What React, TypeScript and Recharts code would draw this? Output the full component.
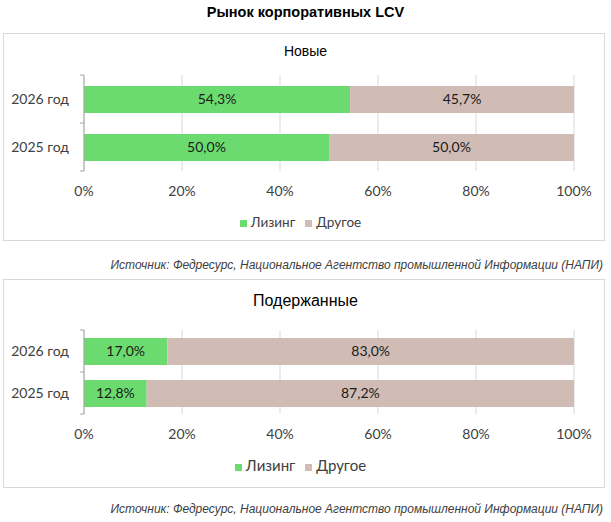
import React from 'react';
import { BarChart, Bar, XAxis, YAxis, CartesianGrid, LabelList, Legend } from 'recharts';

// Categories and series values (percent)
const years = ['2026 год', '2025 год'];
const newLeasing = [54.3, 50.0];
const newOther = [45.7, 50.0];
const usedLeasing = [17.0, 12.8];
const usedOther = [83.0, 87.2];
const percentTicks = [0, 20, 40, 60, 80, 100];
const seriesNames = ['Лизинг', 'Другое'];
const mainTitle = 'Рынок корпоративных LCV';
const sourceText = 'Источник: Федресурс, Национальное Агентство промышленной Информации (НАПИ)';

const GREEN = '#6cdb6f';
const BEIGE = '#d1bcb5';
const GRID = '#d9d9d9';
const AXIS = '#a6a6a6';
const TEXT = '#404040';
const CALIBRI = 'Lato, "Noto Sans", sans-serif';
const ARIAL = '"Liberation Sans", Arial, sans-serif';

const fmt = (v: number) => `${v.toFixed(1).replace('.', ',')}%`;

const buildRows = (leasing: number[], other: number[]) =>
  years.map((name, i) => ({ name, leasing: leasing[i], other: other[i] }));

// category tick: label plus Excel-style tick marks at band edges
const makeYTick = (half: number) => (props: any) => {
  const { x, y, payload, index } = props;
  return (
    <g>
      <text x={x - 15} y={y} dy="0.35em" textAnchor="end" fontSize={14} fill={TEXT} fontFamily={CALIBRI}>
        {payload.value}
      </text>
      <line x1={x - 4} x2={x} y1={y - half} y2={y - half} stroke={AXIS} />
      {index === years.length - 1 && <line x1={x - 4} x2={x} y1={y + half} y2={y + half} stroke={AXIS} />}
    </g>
  );
};

interface PanelProps {
  top: number;
  height: number;
  title: string;
  titleSize: number;
  titleY: number;
  leasing: number[];
  other: number[];
  marginTop: number;
  marginBottom: number;
  legendSize: number;
}

const Panel: React.FC<PanelProps> = ({ top, height, title, titleSize, titleY, leasing, other, marginTop, marginBottom, legendSize }) => {
  const data = buildRows(leasing, other);
  const xAxisHeight = 42;
  const legendHeight = 20;
  const plotHeight = height - marginTop - marginBottom - xAxisHeight - legendHeight;
  const half = plotHeight / years.length / 2;
  return (
    <>
      <div
        style={{
          position: 'absolute',
          left: 3,
          top,
          width: 602,
          height,
          boxSizing: 'border-box',
          border: `1px solid ${GRID}`,
        }}
      />
      <div
        style={{
          position: 'absolute',
          left: 0,
          width: 611,
          top: top + titleY - titleSize,
          textAlign: 'center',
          fontFamily: ARIAL,
          fontSize: titleSize,
          lineHeight: `${titleSize * 2}px`,
          color: '#000',
        }}
      >
        {title}
      </div>
      <div style={{ position: 'absolute', left: 0, top }}>
        <BarChart
          width={611}
          height={height}
          data={data}
          layout="vertical"
          margin={{ top: marginTop, right: 37, bottom: marginBottom, left: 0 }}
        >
          <CartesianGrid horizontal={false} stroke={GRID} />
          <XAxis
            type="number"
            domain={[0, 100]}
            ticks={percentTicks}
            tickFormatter={(v) => `${v}%`}
            axisLine={false}
            tickLine={false}
            tickSize={0}
            tickMargin={15}
            height={xAxisHeight}
            tick={{ fontSize: 14, fill: TEXT, fontFamily: CALIBRI }}
          />
          <YAxis
            type="category"
            dataKey="name"
            width={84}
            stroke={AXIS}
            tickLine={false}
            tickSize={0}
            tickMargin={0}
            tick={makeYTick(half)}
          />
          <Legend
            verticalAlign="bottom"
            height={legendHeight}
            iconType="square"
            iconSize={7}
            wrapperStyle={{ left: 0, width: 611 }}
            itemSorter={(item: any) => seriesNames.indexOf(item.value)}
            formatter={(v) => (
              <span style={{ color: TEXT, fontSize: legendSize, fontFamily: CALIBRI }}>{v}</span>
            )}
          />
          <Bar dataKey="leasing" name={seriesNames[0]} stackId="s" fill={GREEN} barSize={27} isAnimationActive={false}>
            <LabelList dataKey="leasing" position="center" formatter={(v: any) => fmt(v)} fill="#1a1a1a" fontSize={14} fontFamily={CALIBRI} />
          </Bar>
          <Bar dataKey="other" name={seriesNames[1]} stackId="s" fill={BEIGE} barSize={27} isAnimationActive={false}>
            <LabelList dataKey="other" position="center" formatter={(v: any) => fmt(v)} fill="#1a1a1a" fontSize={14} fontFamily={CALIBRI} />
          </Bar>
        </BarChart>
      </div>
    </>
  );
};

const Source: React.FC<{ y: number }> = ({ y }) => (
  <div
    style={{
      position: 'absolute',
      right: 8,
      top: y - 8,
      lineHeight: '16px',
      fontFamily: ARIAL,
      fontStyle: 'italic',
      fontSize: 12,
      color: TEXT,
      whiteSpace: 'nowrap',
    }}
  >
    {sourceText}
  </div>
);

export default function App() {
  return (
    <div style={{ position: 'absolute', left: 0, top: 0, width: 611, height: 522, background: '#fff', overflow: 'hidden' }}>
      <div
        style={{
          position: 'absolute',
          left: 0,
          width: 611,
          top: 3,
          lineHeight: '18px',
          textAlign: 'center',
          fontFamily: ARIAL,
          fontWeight: 'bold',
          fontSize: 14.5,
          color: '#000',
        }}
      >
        {mainTitle}
      </div>
      <Panel
        top={33}
        height={208}
        title="Новые"
        titleSize={14}
        titleY={18}
        leasing={newLeasing}
        other={newOther}
        marginTop={42}
        marginBottom={8}
        legendSize={13.5}
      />
      <Source y={265} />
      <Panel
        top={279}
        height={209}
        title="Подержанные"
        titleSize={16}
        titleY={22}
        leasing={usedLeasing}
        other={usedOther}
        marginTop={51}
        marginBottom={12}
        legendSize={15}
      />
      <Source y={509} />
    </div>
  );
}
